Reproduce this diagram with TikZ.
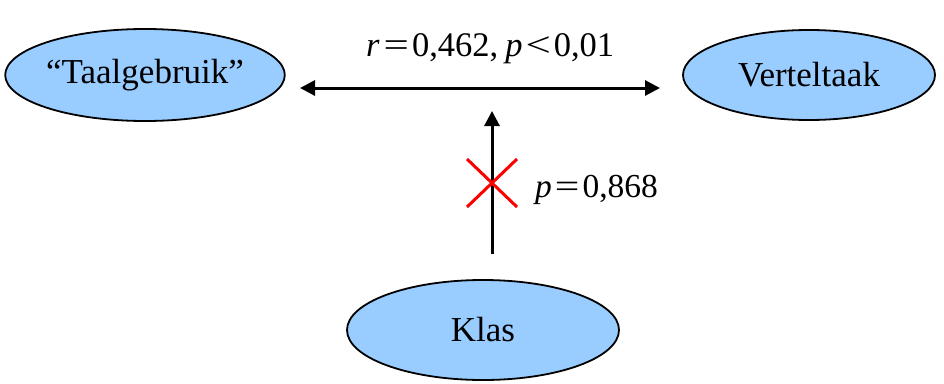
\documentclass[tikz,border=0pt]{standalone}
\usepackage{fontspec}
\setmainfont{Liberation Serif}
\usetikzlibrary{shapes.geometric,arrows.meta}
\definecolor{ovalblue}{RGB}{153,204,255}
\newcommand{\gp}[1]{\hspace{#1pt}}
\newcommand{\eqsign}{\scalebox{1.3}[1]{=}}
\newcommand{\ltsign}{\scalebox{1.3}[1]{<}}
\begin{document}
\begin{tikzpicture}[x=1pt,y=-1pt,
  oval/.style={ellipse, draw=black, line width=1.8pt, fill=ovalblue, inner sep=0pt, font=\fontsize{35}{40}\selectfont},
  link/.style={line width=3pt, {Triangle[length=15pt,width=15pt]}-{Triangle[length=15pt,width=15pt]}},
  onelink/.style={line width=3pt, -{Triangle[length=15pt,width=15pt]}},
  lbl/.style={font=\fontsize{34.5}{40}\selectfont, inner sep=0pt},
  cross/.style={red, line width=3pt}]
\useasboundingbox (0,0) rectangle (944,383);
\node[oval, minimum width=278pt, minimum height=92pt] (T) at (145,75) {“Taalgebruik”};
\node[oval, minimum width=252pt, minimum height=90pt] (V) at (809,75) {Verteltaak};
\node[oval, minimum width=272pt, minimum height=100pt] (K) at (483,330) {Klas};
\coordinate (hl) at (300,88);
\coordinate (hr) at (660,88);
\coordinate (vb) at (492,254);
\coordinate (vt) at (492,111);
\draw[link] (hl) -- (hr);
\draw[onelink] (vb) -- (vt);
\coordinate (x1) at (467,159);
\coordinate (x2) at (517,207);
\coordinate (x3) at (517,159);
\coordinate (x4) at (467,207);
\draw[cross] (x1) -- (x2);
\draw[cross] (x3) -- (x4);
\node[lbl, anchor=base west] (R) at (366,56) {\textit{r}\gp{4}\eqsign\gp{3}0,462,\gp{7}\textit{p}\gp{3}\ltsign\gp{3}0,01};
\node[lbl, anchor=base west, font=\fontsize{33.5}{40}\selectfont] (P) at (535,197) {\textit{p}\gp{3}\eqsign\gp{3}0,868};
\end{tikzpicture}
\end{document}
